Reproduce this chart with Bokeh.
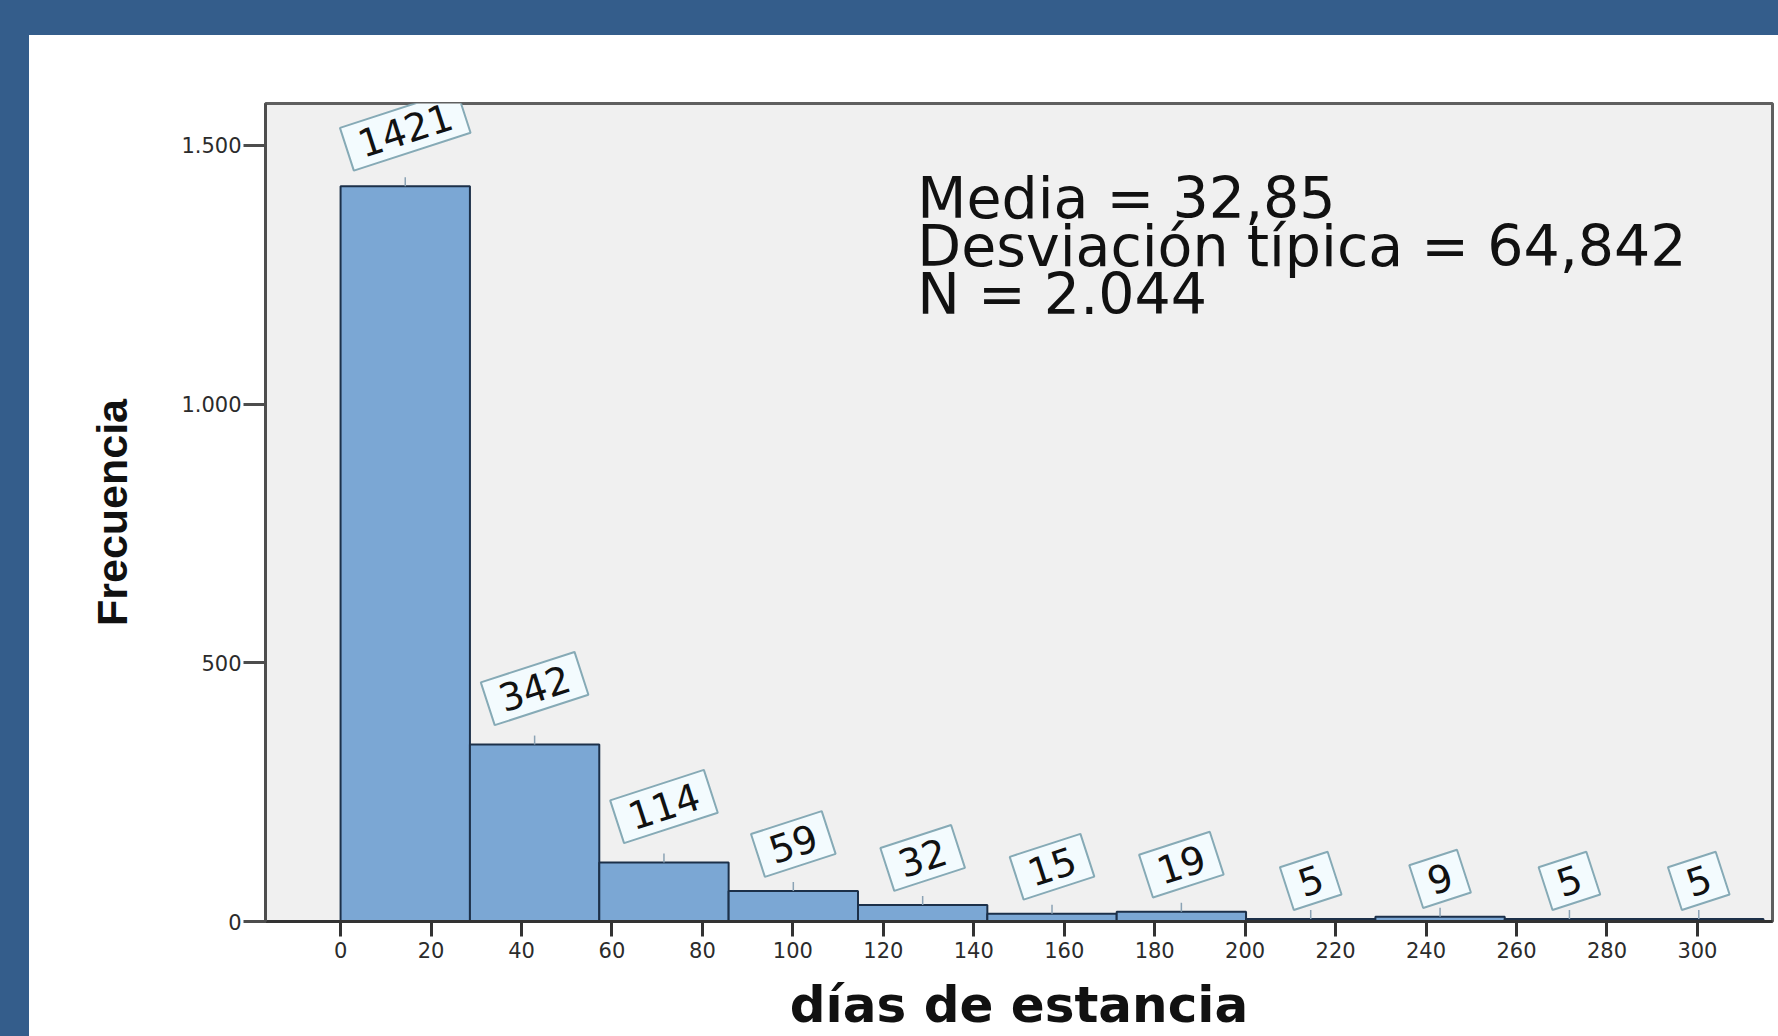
from math import radians, pi

from bokeh.plotting import figure
from bokeh.models import Range1d, FixedTicker, Label, Div, ColumnDataSource
from bokeh.layouts import column, row
from bokeh.embed import file_html
from bokeh.resources import INLINE
from bokeh.core.properties import value

# ---------------- data ----------------
bin_edges = [0, 28.6, 57.2, 85.8, 114.4, 143.0, 171.6, 200.2, 228.8, 257.4, 286.0, 314.6]
frequencies = [1421, 342, 114, 59, 32, 15, 19, 5, 9, 5, 5]
x_ticks = [0, 20, 40, 60, 80, 100, 120, 140, 160, 180, 200, 220, 240, 260, 280, 300]
y_ticks = [0, 500, 1000, 1500]
y_tick_labels = ["0", "500", "1.000", "1.500"]
stats_lines = ["Media = 32,85", "Desviación típica = 64,842", "N = 2.044"]
x_title = "días de estancia"
y_title = "Frecuencia"

# ---------------- styles / layout ----------------
BAND = "#345D8B"
TOTAL_W, TOTAL_H = 1778, 1036
TOP_BAND, LEFT_BAND = 35, 29
PW, PH = TOTAL_W - LEFT_BAND, TOTAL_H - TOP_BAND
BL, BR, BT, BB = 236, 6, 68, 114
X0, X1 = -16.6, 316.6
Y0, Y1 = 0, 1581
frame_h = PH - BT - BB
px_y = frame_h / (Y1 - Y0)

lefts = bin_edges[:-1]
rights = bin_edges[1:]
centers = [(a + b) / 2 for a, b in zip(lefts, rights)]
labels = [str(v) for v in frequencies]

theta = radians(18)
fs = 38
padx, pady = 13, 9
# float each tag above its bar: longer tags sit a little higher
y_offsets = [-min(56, 29 + 9 * len(t)) for t in labels]

src = ColumnDataSource(dict(left=lefts, right=rights, center=centers,
                            freq=frequencies, label=labels, yoff=y_offsets))

p = figure(width=PW, height=PH, x_range=Range1d(X0, X1), y_range=Range1d(Y0, Y1),
           output_backend="svg", toolbar_location=None,
           min_border_left=BL, min_border_right=BR, min_border_top=BT, min_border_bottom=BB)
p.background_fill_color = "#F0F0F0"
p.border_fill_color = "white"
p.outline_line_color = "#5f5f5f"
p.outline_line_width = 3
p.grid.visible = False

p.quad(left="left", right="right", bottom=0, top="freq", source=src,
       fill_color="#7BA7D4", line_color="#1C3049", line_width=2)

p.ray(x="center", y="freq", length=9, length_units="screen", angle=pi / 2,
      source=src, line_color="#8BA3B5", line_width=1.5)

p.text(x="center", y="freq", text="label", source=src, y_offset="yoff",
       angle=theta, text_align="center", text_baseline="middle",
       text_font=value("DejaVu Sans"), text_font_size=value(f"{fs}px"),
       text_color="#111111",
       background_fill_color="#F3FBFE", border_line_color="#86AAB6",
       border_line_width=2, padding=(padx, pady))

# axes
xa = p.xaxis[0]
xa.ticker = FixedTicker(ticks=x_ticks)
xa.minor_tick_line_color = None
xa.major_tick_out = 15
xa.major_tick_in = 0
xa.major_tick_line_width = 3
xa.major_tick_line_color = "#333333"
xa.axis_line_width = 3
xa.axis_line_color = "#333333"
xa.major_label_standoff = 5
xa.major_label_text_font = "DejaVu Sans"
xa.major_label_text_font_size = "21px"
xa.major_label_text_color = "#2b2b2b"
xa.axis_label = x_title
xa.axis_label_text_font = "DejaVu Sans"
xa.axis_label_text_font_style = "bold"
xa.axis_label_text_font_size = "50px"
xa.axis_label_text_color = "#111111"
xa.axis_label_standoff = 15

ya = p.yaxis[0]
ya.ticker = FixedTicker(ticks=y_ticks)
ya.major_label_overrides = {t: l for t, l in zip(y_ticks, y_tick_labels)}
ya.minor_tick_line_color = None
ya.major_tick_out = 22
ya.major_tick_in = 0
ya.major_tick_line_width = 3
ya.major_tick_line_color = "#4d4d4d"
ya.axis_line_width = 3
ya.axis_line_color = "#4d4d4d"
ya.major_label_standoff = 2
ya.major_label_text_font = "DejaVu Sans"
ya.major_label_text_font_size = "21px"
ya.major_label_text_color = "#2b2b2b"
ya.axis_label = y_title
ya.axis_label_text_font = "Liberation Sans"
ya.axis_label_text_font_style = "bold"
ya.axis_label_text_font_size = "43px"
ya.axis_label_text_color = "#111111"
ya.axis_label_standoff = 42

# statistics text (baselines measured down from the frame top, in px)
stat_x = 127.5
baselines_px = [95, 143, 191]
for line, b in zip(stats_lines, baselines_px):
    p.add_layout(Label(x=stat_x, y=Y1 - b / px_y, text=line,
                       text_align="left", text_baseline="alphabetic",
                       text_font="DejaVu Sans", text_font_size="57px",
                       text_color="#111111"))

top_band = Div(text="", width=TOTAL_W, height=TOP_BAND, margin=0,
               styles={"background-color": BAND})
left_band = Div(text="", width=LEFT_BAND, height=PH, margin=0,
                styles={"background-color": BAND})
layout = column(top_band, row(left_band, p, spacing=0, margin=0), spacing=0, margin=0)

open("out.html", "w").write(file_html(layout, INLINE))
